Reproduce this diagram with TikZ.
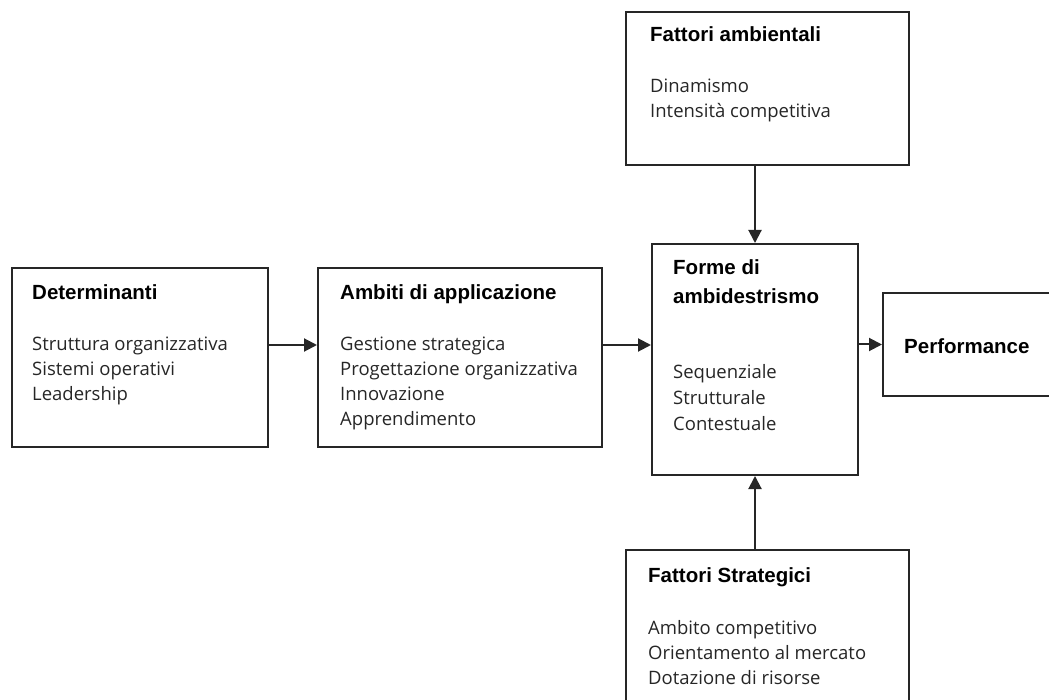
\documentclass[tikz,border=0pt]{standalone}
\usepackage{fontspec}
\setmainfont{Open Sans}
\newfontfamily\headfont{Liberation Sans}
\usetikzlibrary{arrows.meta}
\tikzstyle{box}=[draw=black!85,line width=2pt,rectangle,inner sep=0pt]
\tikzstyle{head}=[anchor=base west,inner sep=0pt,align=left,font=\headfont\bfseries\fontsize{20.5}{29}\selectfont]
\tikzstyle{items}=[anchor=base west,inner sep=0pt,align=left,text=black!85,font=\fontsize{18.5}{25}\selectfont]
\tikzstyle{arr}=[line width=2pt,draw=black!85,-{Triangle[length=13pt,width=13pt]}]

\begin{document}
\begin{tikzpicture}[x=1pt,y=-1pt]
    \useasboundingbox (0,0) rectangle (1049,700);
    % boxes
    \node[box,minimum width=256pt,minimum height=179pt] (det)   at (140,357.5) {};
    \node[box,minimum width=284pt,minimum height=179pt] (amb)   at (460,357.5) {};
    \node[box,minimum width=206pt,minimum height=231pt] (forme) at (755,359.5) {};
    \node[box,minimum width=182pt,minimum height=103pt] (perf)  at (974,344.5) {};
    \node[box,minimum width=283pt,minimum height=153pt] (amb-f) at (767.5,88.5) {};
    \node[box,minimum width=283pt,minimum height=175pt] (str-f) at (767.5,637.5) {};

    % texts (base = baseline of the last line)
    \node[head]  (det-h)   at (32,300)  {Determinanti};
    \node[items] (det-i)   at (32,400)  {Struttura organizzativa\\Sistemi operativi\\Leadership};
    \node[head]  (amb-h)   at (340,300) {Ambiti di applicazione};
    \node[items] (amb-i)   at (340,425) {Gestione strategica\\Progettazione organizzativa\\Innovazione\\Apprendimento};
    \node[head]  (forme-h) at (673,304) {Forme di\\ambidestrismo};
    \node[items,font=\fontsize{18.5}{26}\selectfont] (forme-i) at (673,430) {Sequenziale\\Strutturale\\Contestuale};
    \node[head]  (perf-h)  at (904,353) {Performance};
    \node[head]  (ambf-h)  at (650,42)  {Fattori ambientali};
    \node[items] (ambf-i)  at (650,118) {Dinamismo\\Intensità competitiva};
    \node[head]  (strf-h)  at (648,582) {Fattori Strategici};
    \node[items] (strf-i)  at (648,684) {Ambito competitivo\\Orientamento al mercato\\Dotazione di risorse};

    % connectors
    \draw[arr] ([yshift=12.5pt]det.east) -- ([yshift=12.5pt]amb.west);
    \draw[arr] ([yshift=12.5pt]amb.east) -- ([yshift=12.5pt]amb.east -| forme.west);
    \draw[arr] (forme.east |- perf.west) -- (perf.west);
    \draw[arr] (forme.north |- amb-f.south) -- (forme.north);
    \draw[arr] (forme.south |- str-f.north) -- (forme.south);
\end{tikzpicture}
\end{document}
